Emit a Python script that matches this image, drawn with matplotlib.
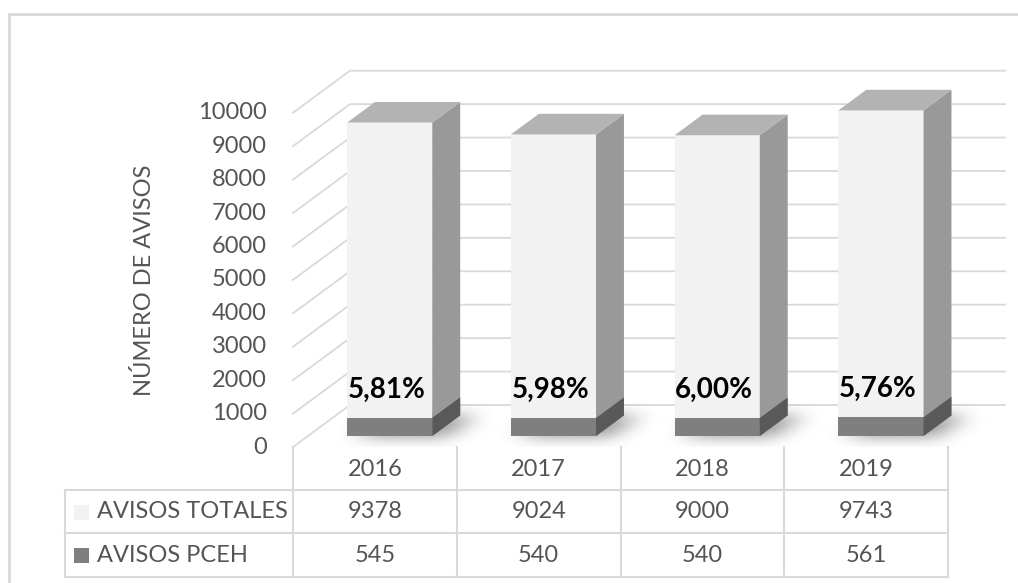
import numpy as np
import matplotlib
matplotlib.use("Agg")
import matplotlib.pyplot as plt
from matplotlib.patches import Polygon, Rectangle
from matplotlib.lines import Line2D
from matplotlib import transforms

years = ["2016", "2017", "2018", "2019"]
avisos_totales = [9378, 9024, 9000, 9743]
avisos_pceh = [545, 540, 540, 561]
series_names = ["AVISOS TOTALES", "AVISOS PCEH"]
y_ticks = list(range(0, 10001, 1000))

plt.rcParams["font.family"] = ["Lato", "DejaVu Sans"]

W, H = 1018, 583
fig = plt.figure(figsize=(W / 100, H / 100), dpi=100)


def fx(px):
    return px / W


def fy(py):
    return 1 - py / H


GRID = "#d9d9d9"
TXT = "#555555"
FS = 17

# oblique depth of the floor / walls (category units, value units)
DX = 0.348
DY = 1257
D0, D1 = 0.26, 0.75   # depth span of each bar
HALF = 0.26           # half bar width

n = len(years)
ax = fig.add_axes([fx(293), fy(447), fx(1005) - fx(293), fy(70.7) - fy(447)])
ax.axis("off")

# walls: left diagonals + back wall lines
for v in y_ticks:
    ax.plot([0, DX, n + DX], [v, v + DY, v + DY], color=GRID, lw=1.3,
            zorder=1, clip_on=False)
    ax.text(-0.16, v, f"{v}", ha="right", va="center", fontsize=FS,
            color=TXT, clip_on=False)

ax.text(-0.91, 5000, "NÚMERO DE AVISOS", rotation=90, ha="center",
        va="center", fontsize=FS, color=TXT, clip_on=False)

# soft floor shadow under the bars
xs = np.linspace(0, n + DX, 712)
ys = np.linspace(0, DY, 80)
gx, gy = np.meshgrid(xs, ys)
t = gy / DY
mask = np.zeros_like(gx)
for i in range(n):
    xl = i + 0.5 - HALF + 0.06
    xr = i + 0.5 + HALF + 0.10
    inside = (t >= D0 - 0.05) & (t <= D1) & (gx - t * DX >= xl) & (gx - t * DX <= xr)
    mask[inside] = 1.0


def blur(a, sigma, axis):
    k = np.arange(-3 * sigma, 3 * sigma + 1)
    ker = np.exp(-0.5 * (k / sigma) ** 2)
    ker /= ker.sum()
    return np.apply_along_axis(lambda r: np.convolve(r, ker, mode="same"), axis, a)


mask = blur(mask, 12, 1)
mask = blur(mask, 14, 0)
shadow = np.zeros(mask.shape + (4,))
shadow[..., 3] = np.clip(mask, 0, 1) * 0.42
ax.imshow(shadow, extent=(0, n + DX, 0, DY), origin="lower", aspect="auto",
          interpolation="bilinear", zorder=2)


def bar_faces(i, v):
    xl = i + 0.5 - HALF + D0 * DX
    xr = i + 0.5 + HALF + D0 * DX
    y0 = D0 * DY
    ddx = (D1 - D0) * DX
    ddy = (D1 - D0) * DY
    front = [(xl, y0), (xr, y0), (xr, y0 + v), (xl, y0 + v)]
    side = [(xr, y0), (xr + ddx, y0 + ddy), (xr + ddx, y0 + ddy + v), (xr, y0 + v)]
    top = [(xl, y0 + v), (xr, y0 + v), (xr + ddx, y0 + v + ddy), (xl + ddx, y0 + v + ddy)]
    return front, side, top


for i in range(n):
    front, side, top = bar_faces(i, avisos_totales[i])
    ax.add_patch(Polygon(front, closed=True, fc="#f2f2f2", ec="none", zorder=3))
    ax.add_patch(Polygon(side, closed=True, fc="#999999", ec="none", zorder=3))
    ax.add_patch(Polygon(top, closed=True, fc="#b3b3b3", ec="none", zorder=3))
    front, side, top = bar_faces(i, avisos_pceh[i])
    ax.add_patch(Polygon(front, closed=True, fc="#7f7f7f", ec="none", zorder=4))
    ax.add_patch(Polygon(side, closed=True, fc="#595959", ec="none", zorder=4))

    pct = avisos_pceh[i] / avisos_totales[i] * 100
    label = f"{pct:.2f}%".replace(".", ",")
    ax.text(i + 0.5 + D0 * DX - 0.02, D0 * DY + avisos_pceh[i] + 850, label,
            ha="center", va="center", fontsize=20, fontweight="bold",
            color="black", zorder=5)

ax.set_xlim(0, n + DX)
ax.set_ylim(0, 10000 + DY)

# data table under the chart
blend = transforms.blended_transform_factory(ax.transData, fig.transFigure)
for k in range(n + 1):
    fig.add_artist(Line2D([k, k], [fy(447), fy(577)], transform=blend,
                          color=GRID, lw=1.5))
x_right = ax.transData.transform((n, 0))[0] / W
for py in (490, 533, 577):
    fig.add_artist(Line2D([fx(65), x_right], [fy(py), fy(py)],
                          transform=fig.transFigure, color=GRID, lw=1.5))
fig.add_artist(Line2D([fx(65), fx(65)], [fy(490), fy(577)],
                      transform=fig.transFigure, color=GRID, lw=1.5))

for i, yr in enumerate(years):
    fig.text(i + 0.5, fy(470), yr, transform=blend, ha="center", va="center",
             fontsize=FS, color=TXT)
    fig.text(i + 0.5, fy(512), f"{avisos_totales[i]}", transform=blend,
             ha="center", va="center", fontsize=FS, color=TXT)
    fig.text(i + 0.5, fy(555), f"{avisos_pceh[i]}", transform=blend,
             ha="center", va="center", fontsize=FS, color=TXT)

for name, py, col in zip(series_names, (512, 555), ("#f2f2f2", "#7f7f7f")):
    fig.add_artist(Rectangle((fx(74), fy(py + 7.5)), fx(15), 15 / H,
                             transform=fig.transFigure, fc=col, ec="none"))
    fig.text(fx(97), fy(py), name, ha="left", va="center", fontsize=FS,
             color=TXT)

# chart frame
fig.add_artist(Rectangle((fx(9), fy(600)), fx(1030 - 9), 586 / H,
                         transform=fig.transFigure, fill=False, ec=GRID, lw=2))

fig.savefig("out.png", dpi=100)
